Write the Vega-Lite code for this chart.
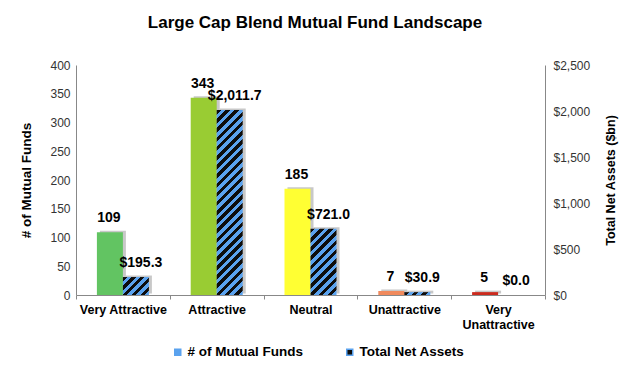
{
  "$schema": "https://vega.github.io/schema/vega-lite/v6.json",
  "width": 469,
  "height": 230,
  "autosize": {"type": "none"},
  "padding": {"left": 76, "top": 65, "right": 85, "bottom": 74},
  "config": {
    "font": "Liberation Sans",
    "view": {"stroke": null},
    "axis": {"grid": false, "domainColor": "#888888", "tickColor": "#888888", "labelFontSize": 12, "labelColor": "#333333", "titleFontSize": 12, "titleFontWeight": "bold", "titleColor": "#000000"}
  },
  "title": {"text": "Large Cap Blend Mutual Fund Landscape", "fontSize": 17, "fontWeight": "bold", "color": "#000000", "anchor": "middle", "frame": "group", "dx": 4.5, "offset": 27},
  "data": {
    "values": [
      {"rating": "Very Attractive", "funds": 109, "assets": 195.3},
      {"rating": "Attractive", "funds": 343, "assets": 2011.7},
      {"rating": "Neutral", "funds": 185, "assets": 721.0},
      {"rating": "Unattractive", "funds": 7, "assets": 30.9},
      {"rating": "Very Unattractive", "funds": 5, "assets": 0.0}
    ]
  },
  "encoding": {
    "x": {
      "field": "rating", "type": "nominal", "sort": null,
      "scale": {"paddingInner": 0, "paddingOuter": 0},
      "axis": {"title": null, "labelAngle": 0, "labelFontWeight": "bold", "labelColor": "#000000", "labelFontSize": 12.5, "tickBand": "extent", "tickSize": 4, "labelPadding": 4, "labelLineHeight": 15,
        "labelExpr": "datum.label == 'Very Unattractive' ? ['Very', 'Unattractive'] : datum.label"}
    }
  },
  "layer": [
    {
      "encoding": {
        "y": {"field": "funds", "type": "quantitative", "scale": {"domain": [0, 400], "nice": false},
          "axis": {"title": "# of Mutual Funds", "titleFontSize": 13.5, "orient": "left", "values": [0, 50, 100, 150, 200, 250, 300, 350, 400], "ticks": false, "labelPadding": 6, "titlePadding": 16}}
      },
      "layer": [
        {"mark": {"type": "bar", "width": 26, "xOffset": -10, "yOffset": -1.5, "fill": "#c8c8c8", "color": "#c8c8c8"}},
        {"mark": {"type": "bar", "width": 26, "xOffset": -13},
          "encoding": {"fill": {"field": "rating", "type": "nominal", "legend": null,
            "scale": {"domain": ["Very Attractive", "Attractive", "Neutral", "Unattractive", "Very Unattractive"], "range": ["#62c462", "#99cc33", "#ffff33", "#f08a5d", "#cc2b1e"]}}}},
        {"mark": {"type": "text", "xOffset": -13, "dx": -1, "baseline": "bottom", "dy": -7, "fontWeight": "bold", "fontSize": 14, "color": "#000000"},
          "encoding": {"text": {"field": "funds", "type": "quantitative"}}}
      ]
    },
    {
      "encoding": {
        "y": {"field": "assets", "type": "quantitative", "scale": {"domain": [0, 2500], "nice": false},
          "axis": {"title": "Total Net Assets ($bn)", "titleFontSize": 12.5, "orient": "right", "values": [0, 500, 1000, 1500, 2000, 2500], "format": "$,.0f", "ticks": false, "labelPadding": 8, "titlePadding": 28, "titleAngle": 270}}
      },
      "layer": [
        {"mark": {"type": "bar", "width": 26, "xOffset": 16, "yOffset": -1.5, "fill": "#c8c8c8", "color": "#c8c8c8"}},
        {"transform": [{"filter": {"field": "rating", "equal": "Very Attractive"}}],
          "mark": {"type": "bar", "width": 26, "xOffset": 13, "fill": {"gradient": "linear", "x1": 0, "y1": 0, "x2": 1.1445, "y2": 0.791, "stops": [
            {"offset": 0, "color": "#0d0d0d"}, {"offset": 0.1, "color": "#0d0d0d"}, {"offset": 0.1, "color": "#5aa2ee"}, {"offset": 0.2, "color": "#5aa2ee"},
            {"offset": 0.2, "color": "#0d0d0d"}, {"offset": 0.3, "color": "#0d0d0d"}, {"offset": 0.3, "color": "#5aa2ee"}, {"offset": 0.4, "color": "#5aa2ee"},
            {"offset": 0.4, "color": "#0d0d0d"}, {"offset": 0.5, "color": "#0d0d0d"}, {"offset": 0.5, "color": "#5aa2ee"}, {"offset": 0.6, "color": "#5aa2ee"},
            {"offset": 0.6, "color": "#0d0d0d"}, {"offset": 0.7, "color": "#0d0d0d"}, {"offset": 0.7, "color": "#5aa2ee"}, {"offset": 0.8, "color": "#5aa2ee"},
            {"offset": 0.8, "color": "#0d0d0d"}, {"offset": 0.9, "color": "#0d0d0d"}, {"offset": 0.9, "color": "#5aa2ee"}, {"offset": 1, "color": "#5aa2ee"}]}}},
        {"transform": [{"filter": {"field": "rating", "equal": "Attractive"}}],
          "mark": {"type": "bar", "width": 26, "xOffset": 13, "fill": {"gradient": "linear", "x1": 0, "y1": 0, "x2": 0.1571, "y2": 1.1184, "stops": [
            {"offset": 0, "color": "#0d0d0d"}, {"offset": 0.02174, "color": "#0d0d0d"}, {"offset": 0.02174, "color": "#5aa2ee"}, {"offset": 0.04348, "color": "#5aa2ee"},
            {"offset": 0.04348, "color": "#0d0d0d"}, {"offset": 0.06522, "color": "#0d0d0d"}, {"offset": 0.06522, "color": "#5aa2ee"}, {"offset": 0.08696, "color": "#5aa2ee"},
            {"offset": 0.08696, "color": "#0d0d0d"}, {"offset": 0.1087, "color": "#0d0d0d"}, {"offset": 0.1087, "color": "#5aa2ee"}, {"offset": 0.13043, "color": "#5aa2ee"},
            {"offset": 0.13043, "color": "#0d0d0d"}, {"offset": 0.15217, "color": "#0d0d0d"}, {"offset": 0.15217, "color": "#5aa2ee"}, {"offset": 0.17391, "color": "#5aa2ee"},
            {"offset": 0.17391, "color": "#0d0d0d"}, {"offset": 0.19565, "color": "#0d0d0d"}, {"offset": 0.19565, "color": "#5aa2ee"}, {"offset": 0.21739, "color": "#5aa2ee"},
            {"offset": 0.21739, "color": "#0d0d0d"}, {"offset": 0.23913, "color": "#0d0d0d"}, {"offset": 0.23913, "color": "#5aa2ee"}, {"offset": 0.26087, "color": "#5aa2ee"},
            {"offset": 0.26087, "color": "#0d0d0d"}, {"offset": 0.28261, "color": "#0d0d0d"}, {"offset": 0.28261, "color": "#5aa2ee"}, {"offset": 0.30435, "color": "#5aa2ee"},
            {"offset": 0.30435, "color": "#0d0d0d"}, {"offset": 0.32609, "color": "#0d0d0d"}, {"offset": 0.32609, "color": "#5aa2ee"}, {"offset": 0.34783, "color": "#5aa2ee"},
            {"offset": 0.34783, "color": "#0d0d0d"}, {"offset": 0.36957, "color": "#0d0d0d"}, {"offset": 0.36957, "color": "#5aa2ee"}, {"offset": 0.3913, "color": "#5aa2ee"},
            {"offset": 0.3913, "color": "#0d0d0d"}, {"offset": 0.41304, "color": "#0d0d0d"}, {"offset": 0.41304, "color": "#5aa2ee"}, {"offset": 0.43478, "color": "#5aa2ee"},
            {"offset": 0.43478, "color": "#0d0d0d"}, {"offset": 0.45652, "color": "#0d0d0d"}, {"offset": 0.45652, "color": "#5aa2ee"}, {"offset": 0.47826, "color": "#5aa2ee"},
            {"offset": 0.47826, "color": "#0d0d0d"}, {"offset": 0.5, "color": "#0d0d0d"}, {"offset": 0.5, "color": "#5aa2ee"}, {"offset": 0.52174, "color": "#5aa2ee"},
            {"offset": 0.52174, "color": "#0d0d0d"}, {"offset": 0.54348, "color": "#0d0d0d"}, {"offset": 0.54348, "color": "#5aa2ee"}, {"offset": 0.56522, "color": "#5aa2ee"},
            {"offset": 0.56522, "color": "#0d0d0d"}, {"offset": 0.58696, "color": "#0d0d0d"}, {"offset": 0.58696, "color": "#5aa2ee"}, {"offset": 0.6087, "color": "#5aa2ee"},
            {"offset": 0.6087, "color": "#0d0d0d"}, {"offset": 0.63043, "color": "#0d0d0d"}, {"offset": 0.63043, "color": "#5aa2ee"}, {"offset": 0.65217, "color": "#5aa2ee"},
            {"offset": 0.65217, "color": "#0d0d0d"}, {"offset": 0.67391, "color": "#0d0d0d"}, {"offset": 0.67391, "color": "#5aa2ee"}, {"offset": 0.69565, "color": "#5aa2ee"},
            {"offset": 0.69565, "color": "#0d0d0d"}, {"offset": 0.71739, "color": "#0d0d0d"}, {"offset": 0.71739, "color": "#5aa2ee"}, {"offset": 0.73913, "color": "#5aa2ee"},
            {"offset": 0.73913, "color": "#0d0d0d"}, {"offset": 0.76087, "color": "#0d0d0d"}, {"offset": 0.76087, "color": "#5aa2ee"}, {"offset": 0.78261, "color": "#5aa2ee"},
            {"offset": 0.78261, "color": "#0d0d0d"}, {"offset": 0.80435, "color": "#0d0d0d"}, {"offset": 0.80435, "color": "#5aa2ee"}, {"offset": 0.82609, "color": "#5aa2ee"},
            {"offset": 0.82609, "color": "#0d0d0d"}, {"offset": 0.84783, "color": "#0d0d0d"}, {"offset": 0.84783, "color": "#5aa2ee"}, {"offset": 0.86957, "color": "#5aa2ee"},
            {"offset": 0.86957, "color": "#0d0d0d"}, {"offset": 0.8913, "color": "#0d0d0d"}, {"offset": 0.8913, "color": "#5aa2ee"}, {"offset": 0.91304, "color": "#5aa2ee"},
            {"offset": 0.91304, "color": "#0d0d0d"}, {"offset": 0.93478, "color": "#0d0d0d"}, {"offset": 0.93478, "color": "#5aa2ee"}, {"offset": 0.95652, "color": "#5aa2ee"},
            {"offset": 0.95652, "color": "#0d0d0d"}, {"offset": 0.97826, "color": "#0d0d0d"}, {"offset": 0.97826, "color": "#5aa2ee"}, {"offset": 1, "color": "#5aa2ee"}]}}},
        {"transform": [{"filter": {"field": "rating", "equal": "Neutral"}}],
          "mark": {"type": "bar", "width": 26, "xOffset": 13, "fill": {"gradient": "linear", "x1": 0, "y1": 0, "x2": 0.473, "y2": 1.2066, "stops": [
            {"offset": 0, "color": "#0d0d0d"}, {"offset": 0.05, "color": "#0d0d0d"}, {"offset": 0.05, "color": "#5aa2ee"}, {"offset": 0.1, "color": "#5aa2ee"},
            {"offset": 0.1, "color": "#0d0d0d"}, {"offset": 0.15, "color": "#0d0d0d"}, {"offset": 0.15, "color": "#5aa2ee"}, {"offset": 0.2, "color": "#5aa2ee"},
            {"offset": 0.2, "color": "#0d0d0d"}, {"offset": 0.25, "color": "#0d0d0d"}, {"offset": 0.25, "color": "#5aa2ee"}, {"offset": 0.3, "color": "#5aa2ee"},
            {"offset": 0.3, "color": "#0d0d0d"}, {"offset": 0.35, "color": "#0d0d0d"}, {"offset": 0.35, "color": "#5aa2ee"}, {"offset": 0.4, "color": "#5aa2ee"},
            {"offset": 0.4, "color": "#0d0d0d"}, {"offset": 0.45, "color": "#0d0d0d"}, {"offset": 0.45, "color": "#5aa2ee"}, {"offset": 0.5, "color": "#5aa2ee"},
            {"offset": 0.5, "color": "#0d0d0d"}, {"offset": 0.55, "color": "#0d0d0d"}, {"offset": 0.55, "color": "#5aa2ee"}, {"offset": 0.6, "color": "#5aa2ee"},
            {"offset": 0.6, "color": "#0d0d0d"}, {"offset": 0.65, "color": "#0d0d0d"}, {"offset": 0.65, "color": "#5aa2ee"}, {"offset": 0.7, "color": "#5aa2ee"},
            {"offset": 0.7, "color": "#0d0d0d"}, {"offset": 0.75, "color": "#0d0d0d"}, {"offset": 0.75, "color": "#5aa2ee"}, {"offset": 0.8, "color": "#5aa2ee"},
            {"offset": 0.8, "color": "#0d0d0d"}, {"offset": 0.85, "color": "#0d0d0d"}, {"offset": 0.85, "color": "#5aa2ee"}, {"offset": 0.9, "color": "#5aa2ee"},
            {"offset": 0.9, "color": "#0d0d0d"}, {"offset": 0.95, "color": "#0d0d0d"}, {"offset": 0.95, "color": "#5aa2ee"}, {"offset": 1, "color": "#5aa2ee"}]}}},
        {"transform": [{"filter": {"field": "rating", "oneOf": ["Unattractive", "Very Unattractive"]}}],
          "mark": {"type": "bar", "width": 26, "xOffset": 13, "fill": {"gradient": "linear", "x1": 0, "y1": 0, "x2": 1.0961, "y2": 0.1197, "stops": [
            {"offset": 0, "color": "#0d0d0d"}, {"offset": 0.1667, "color": "#0d0d0d"}, {"offset": 0.1667, "color": "#5aa2ee"}, {"offset": 0.3333, "color": "#5aa2ee"},
            {"offset": 0.3333, "color": "#0d0d0d"}, {"offset": 0.5, "color": "#0d0d0d"}, {"offset": 0.5, "color": "#5aa2ee"}, {"offset": 0.6667, "color": "#5aa2ee"},
            {"offset": 0.6667, "color": "#0d0d0d"}, {"offset": 0.8333, "color": "#0d0d0d"}, {"offset": 0.8333, "color": "#5aa2ee"}, {"offset": 1, "color": "#5aa2ee"}]}}},
        {"mark": {"type": "text", "xOffset": 13, "dx": 5, "baseline": "bottom", "dy": -7, "fontWeight": "bold", "fontSize": 14, "color": "#000000"},
          "encoding": {"text": {"field": "assets", "type": "quantitative", "format": "$,.1f"}}}
      ]
    },
    {
      "transform": [{"fold": ["funds", "assets"], "as": ["series", "v"]}],
      "mark": {"type": "square", "opacity": 0},
      "encoding": {
        "color": {"field": "series", "type": "nominal",
          "scale": {"domain": ["funds", "assets"], "range": ["#5aa2ee", "#0d0d0d"]},
          "legend": {"title": null, "orient": "none", "direction": "horizontal", "legendX": 95, "legendY": 280,
            "labelExpr": "datum.label == 'funds' ? '# of Mutual Funds' : 'Total Net Assets'",
            "labelFont": "Liberation Sans", "labelFontSize": 13.5, "labelFontWeight": "bold", "labelColor": "#000000",
            "symbolType": "square", "symbolSize": 36, "labelOffset": 3, "columnPadding": 40, "symbolOpacity": 1,
            "symbolStrokeColor": "#5aa2ee", "symbolStrokeWidth": 1.5}
        }
      }
    }
  ],
  "resolve": {"scale": {"y": "independent"}}
}
